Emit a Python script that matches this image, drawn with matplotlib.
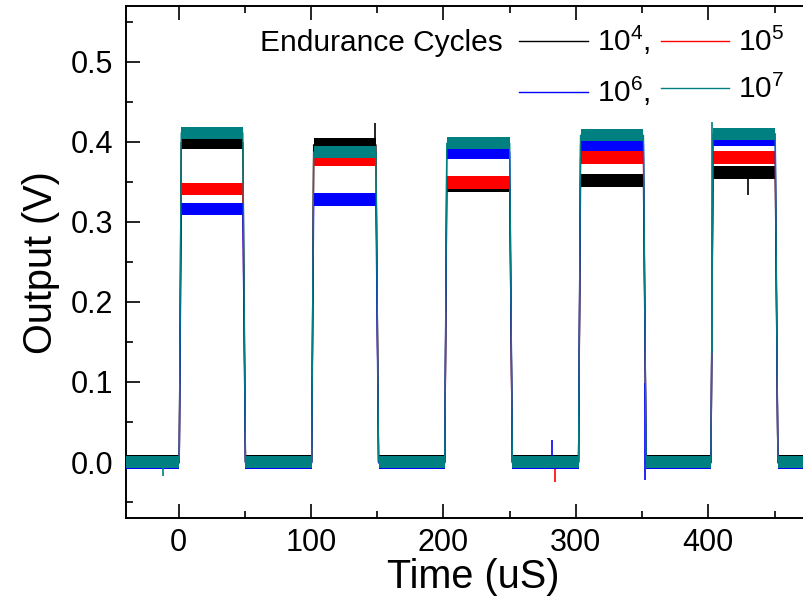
import numpy as np
import matplotlib
matplotlib.use('Agg')
import matplotlib.pyplot as plt
from matplotlib.ticker import MultipleLocator, FormatStrFormatter

plt.rcParams['font.family'] = ['Liberation Sans', 'DejaVu Sans']
plt.rcParams['mathtext.fontset'] = 'custom'
plt.rcParams['mathtext.rm'] = 'Liberation Sans'
plt.rcParams['mathtext.it'] = 'Liberation Sans:italic'

# ---------------- data ----------------
series_labels = ['$10^4$,', '$10^5$', '$10^6$,', '$10^7$']
colors = ['#000000', '#ff0000', '#0000ff', '#008080']

rise_times = [0.5, 100.5, 201.0, 302.0, 402.0]     # uS
fall_times = [48.5, 149.0, 250.0, 351.0, 450.5]    # uS
rise_dur = 1.5
fall_dur = 2.0
t_start, t_end = -40.0, 490.0

levels_1e4 = [0.399, 0.396, 0.345, 0.352, 0.362]
levels_1e5 = [0.341, 0.378, 0.349, 0.380, 0.380]
levels_1e6 = [0.316, 0.328, 0.387, 0.396, 0.403]
levels_1e7 = [0.411, 0.387, 0.398, 0.408, 0.410]
high_levels = [levels_1e4, levels_1e5, levels_1e6, levels_1e7]

base_levels = [0.001, 0.0, -0.001, 0.0]
noise_halfwidth = [0.008, 0.008, 0.008, 0.0075]

# occasional spikes: (series index, time, value)
spike_series = [0, 0, 1, 2, 2, 3, 3]
spike_time = [430.0, 148.0, 284.0, 282.0, 352.5, -12.0, 402.5]
spike_value = [0.333, 0.423, -0.025, 0.027, -0.022, -0.018, 0.425]

# ---------------- figure ----------------
fig = plt.figure(figsize=(8.04, 6.07), dpi=100)
W, H = 804, 607
ax = fig.add_axes([126 / W, 1 - 518.3 / H, (820 - 126) / W, (518.3 - 6.4) / H])

handles = []
for i in range(4):
    base = base_levels[i]
    lv = high_levels[i]
    xs = [t_start]
    ys = [base]
    for r, f, L in zip(rise_times, fall_times, lv):
        xs += [r, r + rise_dur, f, f + fall_dur]
        ys += [base, L, L, base]
    xs.append(t_end)
    ys.append(base)
    z = 2 + i
    ln, = ax.plot(xs, ys, color=colors[i], lw=1.0, zorder=z, label=series_labels[i])
    handles.append(ln)
    n = noise_halfwidth[i]
    # high plateaus
    for r, f, L in zip(rise_times, fall_times, lv):
        ax.fill_between([r + rise_dur, f], [L - n] * 2, [L + n] * 2,
                        color=colors[i], lw=0, zorder=z)
    # low segments
    lows_start = [t_start] + [f + fall_dur for f in fall_times]
    lows_end = list(rise_times) + [t_end]
    for a, b in zip(lows_start, lows_end):
        ax.fill_between([a, b], [base - n] * 2, [base + n] * 2,
                        color=colors[i], lw=0, zorder=z)
    # spikes
    for s, t, v in zip(spike_series, spike_time, spike_value):
        if s == i:
            b0 = np.interp(t, xs, ys)
            ax.vlines(t, b0, v, color=colors[i], lw=1.2, zorder=z)

ax.set_xlim(-39.7, 484.3)
ax.set_ylim(-0.0702, 0.5689)

ax.xaxis.set_major_locator(MultipleLocator(100))
ax.xaxis.set_minor_locator(MultipleLocator(50))
ax.yaxis.set_major_locator(MultipleLocator(0.1))
ax.yaxis.set_minor_locator(MultipleLocator(0.05))
ax.yaxis.set_major_formatter(FormatStrFormatter('%.1f'))

ax.tick_params(which='both', direction='in', top=True, right=True, width=1.2)
ax.tick_params(which='major', length=10, labelsize=22)
ax.tick_params(which='minor', length=5)
ax.tick_params(axis='x', which='major', pad=7)
ax.tick_params(axis='y', which='major', pad=9)
for sp in ax.spines.values():
    sp.set_linewidth(1.4)

ax.set_xlabel('Time (uS)', fontsize=28.5, labelpad=0)
ax.set_ylabel('Output (V)', fontsize=28.5, labelpad=8)

leg_order = [0, 2, 1, 3]
leg = ax.legend([handles[k] for k in leg_order], [series_labels[k] for k in leg_order],
                ncol=2, frameon=False, fontsize=21.5,
                loc='upper left', bbox_to_anchor=(519 / W, 1 - 24 / H),
                bbox_transform=fig.transFigure, borderaxespad=0, borderpad=0,
                handlelength=2.3, handletextpad=0.3, columnspacing=0.35,
                labelspacing=0.6)
fig.text(503 / W, 1 - 51 / H, 'Endurance Cycles', fontsize=21.5,
         ha='right', va='baseline')

fig.savefig('out.png', dpi=100)
